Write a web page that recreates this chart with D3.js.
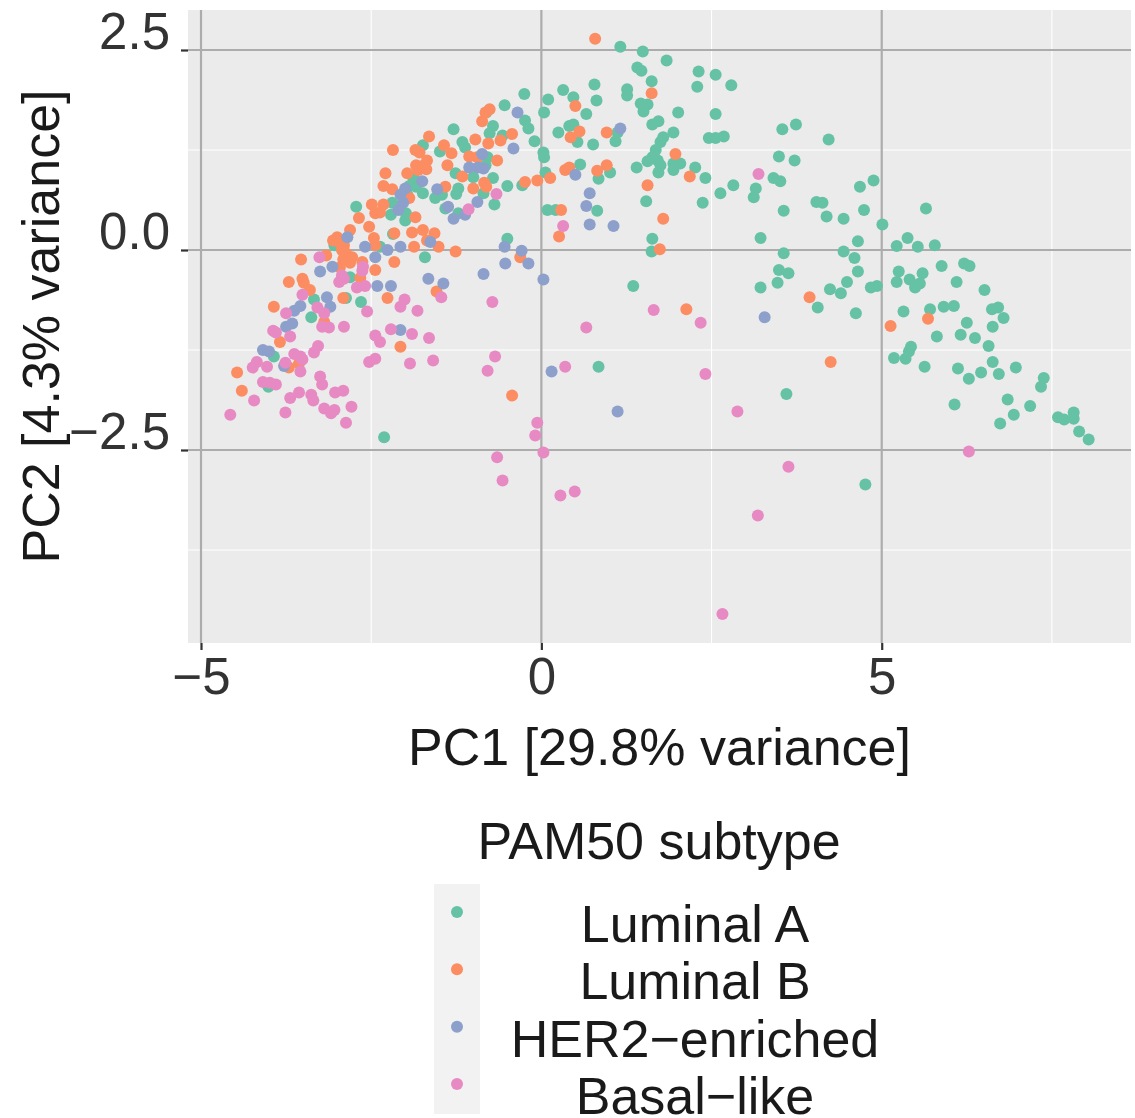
<!DOCTYPE html>
<html>
<head>
<meta charset="utf-8">
<script src="https://cdn.jsdelivr.net/npm/d3@7"></script>
<style>
  body { margin: 0; background: #fff; }
  svg { display: block; font-family: "Liberation Sans", Arial, sans-serif; }
</style>
</head>
<body>
<div id="chart"></div>
<script>
// PCA of PAM50 subtypes: PC1 vs PC2, one array of [PC1, PC2] per subtype

var subtypes = ["Luminal A", "Luminal B", "HER2\u2212enriched", "Basal\u2212like"];
var colors = ["#66c2a5", "#fc8d62", "#8da0cb", "#e78ac3"];

var xTicks = [-5, 0, 5];
var yTicks = [2.5, 0, -2.5];
var xMinor = [-2.5, 2.5, 7.5];
var yMinor = [1.25, -1.25, -3.75];

var luminalA = [
  [1.16,2.54],[1.49,2.48],[1.84,2.37],[1.41,2.28],[1.47,2.24],[2.31,2.23],[2.56,2.19],[2.29,2.04],
  [2.79,2.06],[1.62,2.11],[0.32,2.00],[0.78,2.07],[0.10,1.88],[0.47,1.91],[0.81,1.87],[1.26,2.01],
  [1.26,1.93],[0.04,1.72],[0.66,1.70],[1.46,1.83],[1.56,1.82],[1.50,1.73],[2.01,1.72],[2.56,1.70],
  [1.63,1.57],[1.72,1.61],[0.47,1.57],[0.41,1.55],[0.25,1.47],[1.12,1.47],[1.09,1.36],[0.53,1.35],
  [0.76,1.32],[1.94,1.47],[1.79,1.41],[1.75,1.35],[2.46,1.40],[2.56,1.40],[2.68,1.42],[0.03,1.22],
  [0.04,1.16],[1.68,1.25],[1.63,1.16],[1.71,1.12],[1.56,1.11],[1.75,1.06],[1.72,0.97],[1.94,1.08],
  [2.04,1.08],[1.94,1.00],[1.40,1.03],[2.26,1.03],[2.41,0.90],[0.57,1.07],[0.06,0.97],[0.84,0.89],
  [1.01,0.97],[2.82,0.81],[2.63,0.71],[3.15,0.77],[3.12,0.66],[2.37,0.59],[1.54,0.61],[0.09,0.50],
  [0.21,0.50],[0.82,0.49],[3.22,0.15],[1.63,0.14],[1.62,-0.02],[3.41,0.90],
  [3.54,1.51],[3.74,1.57],[4.22,1.38],[3.49,1.17],[3.72,1.12],[3.51,0.86],[4.68,0.79],[4.88,0.87],
  [4.04,0.60],[4.13,0.59],[3.56,0.49],[4.19,0.42],[4.44,0.39],[4.74,0.50],[5.01,0.32],[5.65,0.52],
  [5.38,0.15],[5.22,0.05],[5.53,0.04],[5.78,0.06],[3.56,-0.04],[4.44,-0.02],[4.65,0.11],[4.60,-0.10],
  [3.49,-0.25],[3.63,-0.29],[3.47,-0.41],[3.22,-0.47],[4.65,-0.27],[4.49,-0.40],[4.24,-0.49],[4.40,-0.54],
  [4.84,-0.47],[4.93,-0.45],[5.88,-0.20],[5.25,-0.27],[5.22,-0.40],[5.41,-0.37],[5.60,-0.29],[5.56,-0.42],
  [5.49,-0.47],[4.06,-0.72],[4.62,-0.79],[5.32,-0.77],[5.71,-0.74],[5.91,-0.71],[5.81,-1.08],[5.43,-1.21],
  [5.40,-1.27],[5.35,-1.36],[5.18,-1.35],[5.63,-1.46],
  [6.21,-0.17],[6.29,-0.20],[6.10,-0.40],[6.51,-0.50],[6.06,-0.70],[6.62,-0.74],[6.71,-0.72],[6.79,-0.85],
  [6.25,-0.91],[6.63,-0.96],[6.16,-1.06],[6.37,-1.10],[6.57,-1.20],[6.12,-1.48],[6.28,-1.61],[6.46,-1.53],
  [6.63,-1.40],[6.72,-1.55],[6.97,-1.47],[7.38,-1.60],[7.34,-1.71],[6.85,-1.87],[7.18,-1.95],[6.94,-2.06],
  [6.74,-2.17],[6.07,-1.93],[7.59,-2.09],[7.68,-2.12],[7.82,-2.03],[7.82,-2.11],[7.90,-2.27],[8.04,-2.37],
  [3.60,-1.80],[4.76,-2.93],[0.84,-1.46],[1.35,-0.45],[-2.31,-2.34],
  [-0.25,1.95],[-0.54,1.81],[-0.81,1.72],[-1.29,1.51],[-0.71,1.55],[-0.76,1.46],[-0.57,1.43],[-0.24,1.62],
  [-0.19,1.52],[-0.10,1.36],[-1.74,1.31],[-1.16,1.35],[-1.12,1.28],[-1.49,1.23],[-0.79,1.16],[-0.82,1.06],
  [-1.26,0.96],[-1.00,0.91],[-0.71,0.90],[-0.50,0.80],[-0.28,0.81],[-1.88,0.90],[-1.94,0.80],[-1.84,0.79],
  [-1.74,0.71],[-1.22,0.77],[-1.25,0.70],[-1.46,0.69],[-1.56,0.65],[-1.41,0.52],[-0.85,0.71],[-0.69,0.57],
  [-2.00,0.72],[-1.97,0.69],[-2.19,0.59],[-2.21,0.44],[-1.99,0.46],[-2.00,0.37],[-2.72,0.54],[-1.22,0.46],
  [-2.18,0.20],[-2.37,0.04],[-1.71,-0.09],[-0.50,0.14],
  [-2.81,-0.34],[-2.65,-0.65],[-3.34,-0.62],[-3.38,-0.84],[-2.87,-0.60],[-3.93,-1.33],[-4.01,-1.71],[-3.04,0.06]
];

var luminalB = [
  [0.79,2.64],[1.62,1.96],[0.50,1.80],[0.43,1.41],[0.56,1.48],[0.96,1.47],[1.97,1.20],[2.18,0.92],
  [0.35,1.00],[0.41,1.03],[0.13,0.90],[0.82,0.99],[0.96,1.06],[1.56,0.81],[0.29,0.50],[0.26,0.17],
  [1.79,0.39],[1.74,0.01],[3.94,-0.59],[5.13,-0.95],[5.68,-0.86],[4.25,-1.40],[2.13,-0.74],[-0.43,-1.82],
  [-1.54,-0.52],[-2.07,-1.21],
  [-2.32,0.80],[-2.19,0.76],[-2.49,0.57],[-2.32,0.57],[-2.68,0.40],[-2.53,0.29],[-2.46,0.15],[-2.44,0.06],
  [-2.16,0.21],[-3.06,0.12],[-2.97,0.10],[-2.90,0.06],[-2.81,0.25],[-3.16,-0.07],[-3.53,-0.12],[-2.87,-0.04],
  [-2.78,-0.09],[-2.91,-0.12],[-2.81,-0.16],[-2.96,-0.22],[-2.63,-0.15],[-2.44,-0.25],[-2.16,-0.15],[-3.51,-0.36],
  [-3.49,-0.41],[-3.40,-0.50],[-3.71,-0.40],[-3.93,-0.71],[-2.91,-0.60],[-2.26,-0.60],[-3.19,-0.90],[-3.84,-1.15],
  [-3.56,-1.42],[-3.71,-1.47],[-4.47,-1.53],[-4.40,-1.76],[-2.66,-0.35],[-1.90,0.22],[-1.87,0.04],
  [-0.76,1.76],[-0.82,1.72],[-0.87,1.61],[-1.65,1.42],[-2.18,1.25],[-1.85,1.25],[-1.79,1.22],[-1.43,1.31],
  [-1.32,1.21],[-0.97,1.38],[-0.78,1.33],[-0.60,1.37],[-0.43,1.45],[-1.06,1.17],[-0.94,1.16],[-0.65,1.12],
  [-1.68,1.12],[-1.75,1.05],[-1.84,1.06],[-1.81,1.00],[-1.69,1.01],[-1.38,1.06],[-2.29,0.96],[-1.97,0.96],
  [-1.94,0.65],[-1.41,0.79],[-1.00,0.77],[-0.84,0.84],[-0.81,0.79],[-1.16,0.92],[-0.24,0.85],[-0.06,0.87],
  [-2.37,0.47],[-2.44,0.46],[-1.85,0.41],[-3.00,0.16],[-2.93,0.00],[-1.74,0.25],[-1.57,0.21],[-1.68,0.12],
  [-1.51,0.04],[-1.26,-0.02],[-0.31,-0.09]
];

var her2 = [
  [1.16,1.52],[0.50,0.94],[0.71,0.71],[0.66,0.55],[0.71,0.32],[1.06,0.30],
  [-1.66,-0.36],[-1.44,-0.42],[-0.85,-0.30],[-0.53,-0.17],[-0.19,-0.17],[0.03,-0.37],[-2.07,-1.00],
  [0.15,-1.52],[1.12,-2.02],[3.28,-0.84],
  [-2.00,0.77],[-2.07,0.69],[-2.03,0.59],[-2.85,0.16],[-2.59,0.04],[-2.44,-0.09],[-3.25,-0.27],[-3.07,-0.21],
  [-2.26,0.00],[-2.07,0.04],[-2.41,-0.45],[-2.21,-0.45],[-3.15,-0.59],[-3.10,-0.71],[-3.54,-0.70],[-3.63,-0.76],
  [-3.66,-0.92],[-3.75,-0.96],[-4.09,-1.25],[-4.00,-1.27],[-3.78,-1.45],
  [-0.35,1.72],[-0.41,1.27],[-0.87,1.20],[-1.06,1.03],[-0.93,1.03],[-0.85,1.02],[-1.75,0.86],[-2.10,0.50],
  [-1.53,0.76],[-1.37,0.54],[-1.29,0.39],[-0.94,0.60],[-1.12,0.44],[-1.63,0.10],[-0.54,0.04],[-0.29,-0.01]
];

var basal = [
  [0.32,0.30],[3.19,0.95],
  [-2.01,-0.62],[-2.07,-0.71],[-1.47,-0.59],[-1.82,-0.76],[-0.72,-0.65],[-1.90,-1.05],[-1.65,-1.10],
  [-1.93,-1.42],[-1.59,-1.38],[-0.68,-1.33],[-0.79,-1.51],[0.66,-0.97],[0.35,-1.46],[-0.06,-2.16],
  [-0.09,-2.32],[0.03,-2.53],[-0.65,-2.59],[-0.57,-2.88],[0.28,-3.07],[0.49,-3.02],
  [1.65,-0.75],[2.34,-0.91],[2.41,-1.55],[2.88,-2.02],[3.63,-2.71],[3.18,-3.32],[2.66,-4.55],[6.28,-2.52],
  [-3.26,-0.09],[-2.90,-0.36],[-2.97,-0.40],[-2.62,-0.21],[-2.71,-0.47],[-2.59,-0.45],[-3.51,-0.56],[-3.75,-0.79],
  [-3.94,-1.01],[-3.90,-1.03],[-3.69,-1.08],[-3.22,-0.96],[-3.12,-0.97],[-3.29,-0.72],[-3.19,-0.79],[-2.90,-0.96],
  [-2.56,-0.77],[-2.21,-0.99],[-2.44,-1.07],[-2.37,-1.15],[-3.28,-1.20],[-3.34,-1.28],[-3.63,-1.30],[-3.54,-1.33],
  [-3.76,-1.41],[-3.51,-1.37],[-4.18,-1.40],[-4.24,-1.47],[-4.03,-1.46],[-3.54,-1.52],[-2.53,-1.40],[-2.44,-1.36],
  [-4.09,-1.65],[-3.99,-1.66],[-3.90,-1.68],[-4.22,-1.88],[-4.57,-2.06],[-3.76,-2.03],[-3.69,-1.85],[-3.56,-1.78],
  [-3.38,-1.81],[-3.35,-1.88],[-3.25,-1.58],[-3.22,-1.68],[-3.03,-1.78],[-2.91,-1.76],[-3.19,-1.98],[-3.04,-2.00],
  [-3.09,-2.04],[-2.79,-1.96],[-2.87,-2.16],
  [-0.66,0.70],[-1.07,0.51],[-2.93,-0.32],[-2.63,-0.26]
];

var series = [luminalA, luminalB, her2, basal];

var W = 1135, H = 1118;
var margin = { top: 10, right: 4, bottom: 475, left: 188 };
var width = W - margin.left - margin.right;
var height = H - margin.top - margin.bottom;

var svg = d3.select("#chart").append("svg")
    .attr("width", W)
    .attr("height", H);

var g = svg.append("g")
    .attr("transform", "translate(" + margin.left + "," + margin.top + ")");

var x = d3.scaleLinear().domain([-5.191, 8.662]).range([0, width]);
var y = d3.scaleLinear().domain([3.0, -4.9125]).range([0, height]);

// panel
g.append("rect")
    .attr("width", width).attr("height", height)
    .attr("fill", "#ebebeb");

// minor grid (white)
g.selectAll(".gx-minor").data(xMinor).enter().append("line")
    .attr("x1", x).attr("x2", x).attr("y1", 0).attr("y2", height)
    .attr("stroke", "#fff").attr("stroke-width", 1.1);
g.selectAll(".gy-minor").data(yMinor).enter().append("line")
    .attr("y1", y).attr("y2", y).attr("x1", 0).attr("x2", width)
    .attr("stroke", "#fff").attr("stroke-width", 1.1);

// major grid (grey)
g.selectAll(".gx-major").data(xTicks).enter().append("line")
    .attr("x1", x).attr("x2", x).attr("y1", 0).attr("y2", height)
    .attr("stroke", "#acacac").attr("stroke-width", 2.2);
g.selectAll(".gy-major").data(yTicks).enter().append("line")
    .attr("y1", y).attr("y2", y).attr("x1", 0).attr("x2", width)
    .attr("stroke", "#acacac").attr("stroke-width", 2.2);

// points
series.forEach(function (pts, i) {
    g.append("g").selectAll("circle")
        .data(pts)
        .enter().append("circle")
        .attr("cx", function (d) { return x(d[0]); })
        .attr("cy", function (d) { return y(d[1]); })
        .attr("r", 6)
        .attr("fill", colors[i]);
});

// axes
function fmt(d) { return d < 0 ? "\u2212" + Math.abs(d) : String(d); }

var xAxis = g.append("g")
    .attr("transform", "translate(0," + height + ")")
    .call(d3.axisBottom(x).tickValues(xTicks).tickSize(7).tickPadding(8).tickFormat(fmt));
xAxis.select(".domain").remove();
xAxis.selectAll("line").attr("stroke", "#333").attr("stroke-width", 2.2);
xAxis.selectAll("text").attr("fill", "#333").attr("font-size", 51)
    .attr("font-family", "Liberation Sans, Arial, sans-serif");

var yAxis = g.append("g")
    .call(d3.axisLeft(y).tickValues(yTicks).tickSize(7).tickPadding(11)
        .tickFormat(function (d) { return fmt(d.toFixed(1)); }));
yAxis.select(".domain").remove();
yAxis.selectAll("line").attr("stroke", "#333").attr("stroke-width", 2.2);
yAxis.selectAll("text").attr("fill", "#333").attr("font-size", 51)
    .attr("dy", "-0.02em")
    .attr("font-family", "Liberation Sans, Arial, sans-serif");

// axis titles
svg.append("text")
    .attr("x", margin.left + width / 2).attr("y", 765)
    .attr("text-anchor", "middle").attr("font-size", 52).attr("fill", "#1a1a1a")
    .text("PC1 [29.8% variance]");

svg.append("text")
    .attr("transform", "translate(59," + (margin.top + height / 2) + ") rotate(-90)")
    .attr("text-anchor", "middle").attr("font-size", 52).attr("fill", "#1a1a1a")
    .text("PC2 [4.3% variance]");

// legend
svg.append("text")
    .attr("x", 659).attr("y", 859)
    .attr("text-anchor", "middle").attr("font-size", 52).attr("fill", "#1a1a1a")
    .text("PAM50 subtype");

svg.append("rect")
    .attr("x", 434).attr("y", 884).attr("width", 46).attr("height", 230)
    .attr("fill", "#f2f2f2");

var keyY = d3.scalePoint().domain(subtypes).range([912, 1084]);

var keys = svg.append("g").selectAll("g")
    .data(subtypes)
    .enter().append("g");

keys.append("circle")
    .attr("cx", 457)
    .attr("cy", function (d) { return keyY(d); })
    .attr("r", 6)
    .attr("fill", function (d, i) { return colors[i]; });

keys.append("text")
    .attr("x", 695)
    .attr("y", function (d) { return keyY(d) + 30; })
    .attr("text-anchor", "middle").attr("font-size", 52).attr("fill", "#1a1a1a")
    .text(function (d) { return d; });
</script>
</body>
</html>
